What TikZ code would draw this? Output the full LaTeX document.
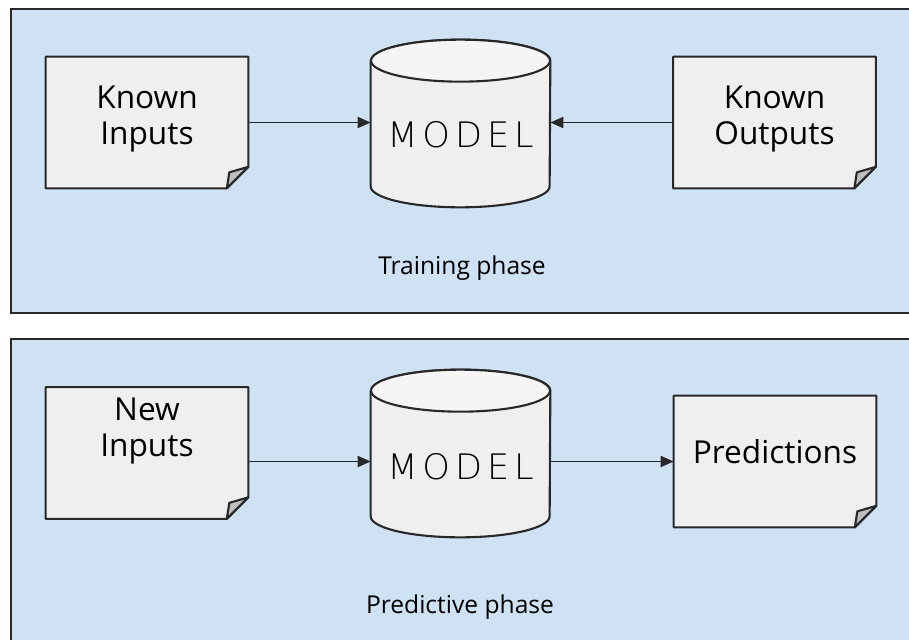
\documentclass[tikz,border=0pt]{standalone}
\usepackage{fontspec}
\setmainfont{Open Sans}
\newfontfamily\modelfont{DejaVu Sans ExtraLight}[LetterSpace=14]
\usetikzlibrary{arrows.meta}
\definecolor{mlpanel}{RGB}{207,226,243}
\definecolor{mlpaper}{RGB}{239,239,239}
\definecolor{mllid}{RGB}{245,245,245}
\definecolor{mlfold}{RGB}{190,190,190}
\definecolor{mlline}{RGB}{40,40,40}
\newcommand{\FOLD}{0.43cm}
\newcommand{\RX}{1.79cm}
\newcommand{\RY}{0.42cm}
\pgfdeclarelayer{paper}
\pgfsetlayers{paper,main}

% a sheet with a folded corner, drawn round a node
\newcommand{\sheet}[1]{%
  \draw[outline, fill=mlpaper] (#1.north west) -- (#1.north east)
    -- ([yshift=\FOLD]#1.south east) -- ([xshift=-\FOLD]#1.south east)
    -- (#1.south west) -- cycle;
  \draw[outline, fill=mlfold] ([xshift=-\FOLD]#1.south east)
    -- ([xshift=-0.38cm,yshift=0.32cm]#1.south east)
    -- ([yshift=\FOLD]#1.south east) -- cycle;
}
% a standing drum, drawn round a node
\newcommand{\drum}[1]{%
  \draw[outline, fill=mlpaper] ([yshift=-\RY]#1.north west) -- ([yshift=\RY]#1.south west)
    arc[start angle=180, end angle=360, x radius=\RX, y radius=\RY]
    -- ([yshift=-\RY]#1.north east)
    arc[start angle=0, end angle=180, x radius=\RX, y radius=\RY] -- cycle;
  \draw[outline, fill=mllid] ([yshift=-\RY]#1.north) ellipse [x radius=\RX, y radius=\RY];
}

\begin{document}
\begin{tikzpicture}[
    x=0.02cm, y=-0.02cm,
    >={Triangle[length=2.6mm,width=2.2mm]},
    outline/.style={draw=mlline, line width=1.2pt, line join=round},
    panel/.style={draw=mlline, line width=1.2pt, fill=mlpanel},
    doc/.style={minimum width=4.04cm, minimum height=2.62cm, inner sep=0pt},
    drumbox/.style={minimum width=3.58cm, minimum height=3.34cm, inner sep=0pt},
    doctext/.style={font=\fontsize{18}{20.5}\selectfont, align=center, text=black},
    modeltext/.style={font=\modelfont\fontsize{20}{22}\selectfont, text=black},
    tag/.style={font=\fontsize{14}{17}\selectfont},
    flow/.style={->, draw=mlline, line width=1.1pt},
  ]
  \useasboundingbox (0,0) rectangle (909,639);

  %% ================= training phase =================
  \node[doc, label={[doctext, yshift=0.07cm]center:{Known\\Inputs}}] (knownin) at (147,122.5) {};
  \node[drumbox, label={[modeltext, yshift=-0.22cm]center:MODEL}] (model1) at (460.5,123.5) {};
  \node[doc, label={[doctext, yshift=0.07cm]center:{Known\\Outputs}}] (knownout) at (774.5,122.5) {};
  \node[tag] (train) at (462,268) {Training phase};

  \draw[flow] (knownin.east) -- (knownin.east -| model1.west);
  \draw[flow] (knownout.west) -- (knownout.west -| model1.east);

  %% ================= predictive phase =================
  \node[doc, label={[doctext, yshift=0.44cm]center:{New\\Inputs}}] (newin) at (147,453) {};
  \node[drumbox, label={[modeltext, yshift=-0.26cm]center:MODEL}] (model2) at (460.5,453.5) {};
  \node[doc, label={[doctext, yshift=0.2cm]center:Predictions}] (pred) at (775,461.5) {};
  \node[tag] (predict) at (460,607) {Predictive phase};

  \draw[flow] (newin.east |- pred.west) -- (model2.west |- pred.west);
  \draw[flow] (model2.east |- pred.west) -- (pred.west);

  % panels and shapes go below the texts
  \begin{pgfonlayer}{paper}
    \draw[panel] (11,9) rectangle (915,313);
    \draw[panel] (11,339) rectangle (915,645);
    \sheet{knownin} \sheet{knownout} \sheet{newin} \sheet{pred}
    \drum{model1} \drum{model2}
  \end{pgfonlayer}

\end{tikzpicture}
\end{document}
